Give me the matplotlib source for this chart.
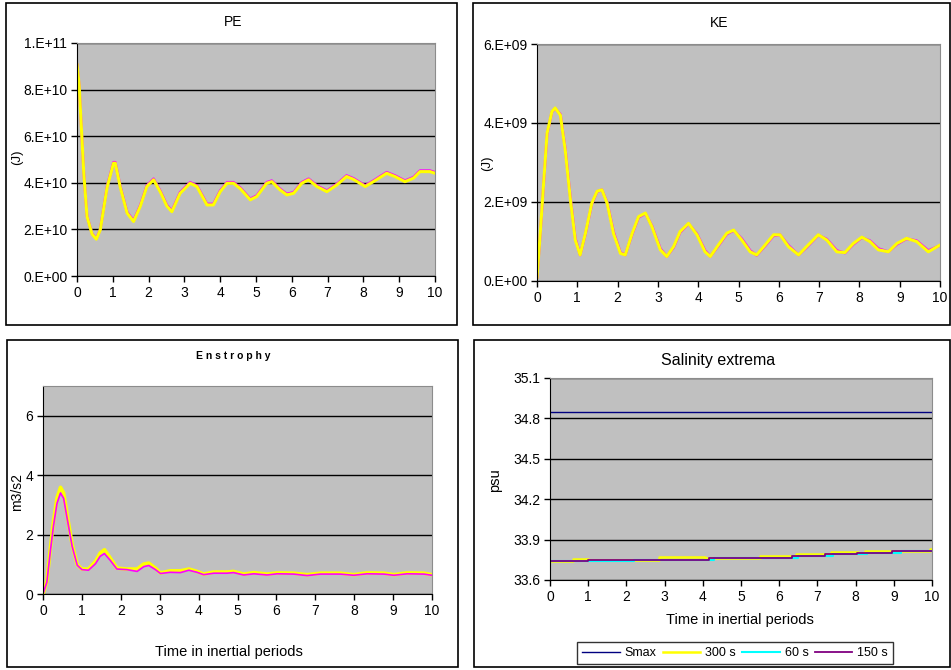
import matplotlib
matplotlib.use("Agg")
import matplotlib.pyplot as plt
from matplotlib.patches import Rectangle

plt.rcParams['font.family'] = ['Liberation Sans', 'DejaVu Sans']

# ---- data ----
pe_t = [0, 0.06, 0.09, 0.19, 0.28, 0.42, 0.54, 0.65, 0.84, 1.02, 1.07, 1.21, 1.4, 1.58, 1.77, 1.95, 2.14, 2.33,
        2.51, 2.65, 2.88, 3.16, 3.35, 3.63, 3.81, 4.0, 4.19, 4.37, 4.56, 4.84, 5.02, 5.3, 5.44, 5.67, 5.86, 6.05,
        6.28, 6.47, 6.7, 6.98, 7.26, 7.53, 7.72, 8.05, 8.28, 8.65, 8.88, 9.16, 9.4, 9.58, 9.86, 10]
pe_300 = [9.1, 8.2, 7.3, 4.4, 2.55, 1.8, 1.58, 1.98, 3.8, 4.84, 4.84, 3.8, 2.7, 2.34, 3.0, 3.84, 4.13, 3.6,
          3.0, 2.76, 3.55, 3.98, 3.84, 3.05, 3.05, 3.62, 3.98, 3.98, 3.75, 3.27, 3.41, 3.98, 4.05, 3.7, 3.48, 3.55,
          3.98, 4.13, 3.84, 3.62, 3.91, 4.27, 4.15, 3.84, 4.05, 4.41, 4.27, 4.05, 4.2, 4.48, 4.48, 4.41]
pe_150 = [9.1, 8.2, 7.3, 4.42, 2.57, 1.82, 1.6, 2.0, 3.84, 4.88, 4.88, 3.84, 2.74, 2.38, 3.04, 3.88, 4.17, 3.64,
          3.04, 2.8, 3.59, 4.02, 3.88, 3.09, 3.09, 3.66, 4.02, 4.02, 3.79, 3.31, 3.45, 4.02, 4.09, 3.74, 3.52, 3.59,
          4.02, 4.17, 3.88, 3.66, 3.95, 4.31, 4.19, 3.88, 4.09, 4.45, 4.31, 4.09, 4.24, 4.52, 4.52, 4.45]  # 1e10 J
pe_ticklabels = ["0.E+00", "2.E+10", "4.E+10", "6.E+10", "8.E+10", "1.E+11"]

ke_t = [0, 0.08, 0.17, 0.25, 0.37, 0.45, 0.58, 0.7, 0.83, 0.95, 1.07, 1.2, 1.36, 1.49, 1.61, 1.74, 1.9, 2.07,
        2.19, 2.36, 2.52, 2.69, 2.85, 3.06, 3.22, 3.39, 3.55, 3.76, 3.97, 4.17, 4.3, 4.5, 4.71, 4.88, 5.08, 5.29,
        5.45, 5.66, 5.87, 6.03, 6.24, 6.49, 6.69, 6.98, 7.19, 7.44, 7.64, 7.85, 8.06, 8.26, 8.47, 8.72, 8.93,
        9.17, 9.42, 9.71, 10]
ke_300 = [0.07, 1.2, 2.56, 3.74, 4.29, 4.38, 4.2, 3.32, 2.05, 1.04, 0.66, 1.2, 1.97, 2.27, 2.31, 1.97, 1.2, 0.7,
          0.66, 1.2, 1.63, 1.72, 1.38, 0.79, 0.62, 0.87, 1.25, 1.46, 1.17, 0.74, 0.62, 0.91, 1.21, 1.29, 1.04, 0.74,
          0.66, 0.91, 1.17, 1.17, 0.87, 0.66, 0.87, 1.17, 1.04, 0.74, 0.72, 0.95, 1.11, 1.0, 0.79, 0.74, 0.95,
          1.08, 1.0, 0.74, 0.91]
ke_150 = [0.07, 1.18, 2.53, 3.72, 4.28, 4.37, 4.22, 3.36, 2.1, 1.08, 0.66, 1.18, 1.95, 2.26, 2.31, 1.99, 1.24, 0.72,
          0.66, 1.18, 1.61, 1.71, 1.4, 0.82, 0.62, 0.85, 1.23, 1.45, 1.19, 0.77, 0.62, 0.89, 1.19, 1.28, 1.07, 0.77,
          0.65, 0.89, 1.15, 1.17, 0.9, 0.66, 0.85, 1.16, 1.06, 0.77, 0.71, 0.93, 1.1, 1.02, 0.82, 0.74, 0.93,
          1.07, 1.02, 0.77, 0.9]  # 1e9 J
ke_ticklabels = ["0.E+00", "2.E+09", "4.E+09", "6.E+09"]

en_t = [0, 0.1, 0.19, 0.27, 0.36, 0.45, 0.53, 0.62, 0.75, 0.88, 1.0, 1.17, 1.35, 1.47, 1.58, 1.73, 1.9, 2.16,
        2.42, 2.59, 2.72, 2.89, 3.02, 3.27, 3.53, 3.75, 3.96, 4.13, 4.39, 4.73, 4.9, 5.16, 5.42, 5.76, 6.02, 6.44,
        6.79, 7.13, 7.64, 7.99, 8.33, 8.76, 9.02, 9.36, 9.79, 10]
en_300 = [0, 0.43, 1.55, 2.44, 3.23, 3.59, 3.4, 2.67, 1.66, 0.99, 0.84, 0.84, 1.1, 1.38, 1.49, 1.21, 0.87, 0.84,
          0.84, 1.01, 1.04, 0.87, 0.71, 0.78, 0.78, 0.84, 0.76, 0.67, 0.74, 0.74, 0.76, 0.67, 0.72, 0.67, 0.71, 0.7,
          0.65, 0.7, 0.7, 0.65, 0.71, 0.7, 0.65, 0.71, 0.7, 0.65]
en_150 = [0, 0.4, 1.45, 2.3, 3.05, 3.4, 3.22, 2.55, 1.6, 0.97, 0.82, 0.8, 1.02, 1.27, 1.36, 1.13, 0.84, 0.82,
          0.76, 0.92, 0.96, 0.82, 0.69, 0.73, 0.72, 0.8, 0.73, 0.65, 0.7, 0.7, 0.72, 0.64, 0.68, 0.64, 0.68, 0.67,
          0.62, 0.67, 0.67, 0.63, 0.68, 0.67, 0.63, 0.68, 0.67, 0.63]

smax_t = [0, 10]
smax = [34.85, 34.85]
smin300_t = [0, 0.6, 1.0, 2.85, 4.05, 5.5, 6.3, 6.45, 7.1, 7.35, 8.05, 8.25, 8.9, 9.95, 10]
smin300 = [33.741, 33.756, 33.751, 33.769, 33.766, 33.781, 33.779, 33.793, 33.791, 33.806, 33.803, 33.818,
           33.816, 33.83, 33.83]
smin60_t = [0, 1.0, 2.2, 4.3, 6.5, 7.4, 8.3, 9.2, 10]
smin60 = [33.741, 33.738, 33.751, 33.766, 33.779, 33.791, 33.803, 33.816, 33.816]
smin150_t = [0, 1.0, 4.15, 6.33, 7.2, 8.03, 8.95, 10]
smin150 = [33.741, 33.751, 33.766, 33.779, 33.791, 33.803, 33.816, 33.816]
sal_ticks = [33.6, 33.9, 34.2, 34.5, 34.8, 35.1]

W, H = 951, 670
fig = plt.figure(figsize=(W / 100, H / 100), dpi=100)
fig.patch.set_facecolor('white')


def px_axes(l, t, r, b):
    return fig.add_axes([l / W, 1 - b / H, (r - l) / W, (b - t) / H])


def panel(l, t, r, b):
    fig.patches.append(Rectangle((l / W, 1 - b / H), (r - l) / W, (b - t) / H, transform=fig.transFigure,
                                 fill=False, edgecolor='black', linewidth=1.2))


def style(ax, yticks, ylim, ylabels=None):
    ax.set_facecolor('#c0c0c0')
    ax.set_xlim(0, 10)
    ax.set_ylim(*ylim)
    ax.set_xticks(range(11))
    ax.set_yticks(yticks)
    if ylabels is not None:
        ax.set_yticklabels(ylabels)
    ax.yaxis.grid(True, color='black', linewidth=1)
    ax.set_axisbelow(True)
    for s in ['top', 'right']:
        ax.spines[s].set_color('#8c8c8c')
    for s in ['left', 'bottom']:
        ax.spines[s].set_color('black')
    ax.tick_params(direction='out', length=4, width=1, labelsize=10, colors='black', pad=3)


line_kw = dict(solid_joinstyle='round', solid_capstyle='round')

# PE
panel(6, 3, 457, 325)
ax1 = px_axes(77, 43, 435, 276)
ax1.plot(pe_t, [v * 1e10 for v in pe_150], color='#ff00ff', lw=2, **line_kw)
ax1.plot(pe_t, [v * 1e10 for v in pe_300], color='#ffff00', lw=2.2, **line_kw)
style(ax1, [i * 2e10 for i in range(6)], (0, 1e11), pe_ticklabels)
fig.text(233 / W, 1 - 22 / H, "PE", ha='center', va='center', fontsize=10)
fig.text(17 / W, 1 - 157 / H, "(J)", rotation=90, ha='center', va='center', fontsize=9.5)

# KE
panel(473, 3, 950, 325)
ax2 = px_axes(537, 44, 940, 281)
ax2.plot(ke_t, [v * 1e9 for v in ke_150], color='#ff00ff', lw=2, **line_kw)
ax2.plot(ke_t, [v * 1e9 for v in ke_300], color='#ffff00', lw=2.2, **line_kw)
style(ax2, [i * 2e9 for i in range(4)], (0, 6e9), ke_ticklabels)
fig.text(719 / W, 1 - 23 / H, "KE", ha='center', va='center', fontsize=10)
fig.text(487 / W, 1 - 163 / H, "(J)", rotation=90, ha='center', va='center', fontsize=9.5)

# Enstrophy
panel(7, 340, 458, 667)
ax3 = px_axes(43, 386, 432, 594)
ax3.plot(en_t, en_300, color='#ffff00', lw=2.6, **line_kw)
ax3.plot(en_t, en_150, color='#ff00ff', lw=1.2, **line_kw)
style(ax3, [0, 2, 4, 6], (0, 7))
fig.text(233 / W, 1 - 356 / H, "E n s t r o p h y", ha='center', va='center', fontsize=7.5, fontweight='bold')
fig.text(17 / W, 1 - 492 / H, "m3/s2", rotation=90, ha='center', va='center', fontsize=10)
fig.text(229 / W, 1 - 652 / H, "Time in inertial periods", ha='center', va='center', fontsize=10.5)

# Salinity extrema
panel(474, 340, 950, 667)
ax4 = px_axes(550, 378, 932, 580)
ax4.plot(smax_t, smax, color='#000080', lw=1, label='Smax')
ax4.step(smin300_t, smin300, where='post', color='#ffff00', lw=1.8, label='300 s')
ax4.step(smin60_t, smin60, where='post', color='#00ffff', lw=1.5, label='60 s')
ax4.step(smin150_t, smin150, where='post', color='#800080', lw=1.3, label='150 s')
style(ax4, sal_ticks, (33.6, 35.1), [f"{v:.1f}" for v in sal_ticks])
fig.text(718 / W, 1 - 361 / H, "Salinity extrema", ha='center', va='center', fontsize=11.5)
fig.text(495 / W, 1 - 480 / H, "psu", rotation=90, ha='center', va='center', fontsize=10.5)
fig.text(740 / W, 1 - 620 / H, "Time in inertial periods", ha='center', va='center', fontsize=10.5)

leg = fig.legend(*ax4.get_legend_handles_labels(), loc='center', bbox_to_anchor=(735 / W, 1 - 653 / H),
                 ncol=4, frameon=True, fancybox=False, fontsize=9, handlelength=3, columnspacing=0.5,
                 handletextpad=0.4, borderpad=0.4)
leg.get_frame().set_edgecolor('black')
leg.get_frame().set_linewidth(1)

fig.savefig("out.png", dpi=100, facecolor='white')
